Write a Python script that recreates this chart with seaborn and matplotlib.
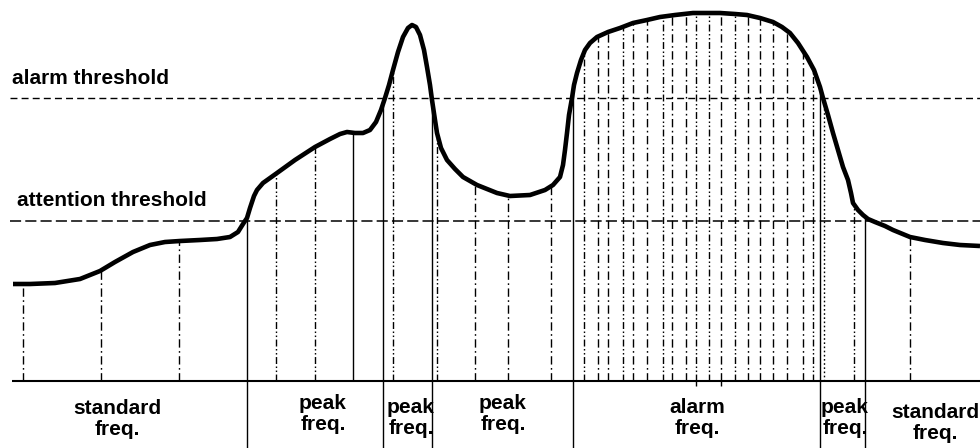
import numpy as np
import matplotlib
matplotlib.use("Agg")
import matplotlib.pyplot as plt
import seaborn as sns

# curve: frequency position vs amplitude (baseline = 0)
freq = [13, 30, 55, 80, 100, 115, 133, 150, 165, 180, 200, 217, 230, 238, 243,
        247, 250, 254, 257, 263, 277, 295, 315, 330, 340, 347, 355, 363, 370, 376,
        381, 385, 389, 393, 398, 403, 408, 412, 416, 420, 424, 427, 430, 432, 435,
        437, 441, 447, 455, 463, 477, 497, 510, 530, 545, 553, 560, 563, 565, 567,
        569, 572, 574, 577, 581, 585, 590, 597, 608, 620, 633, 647, 660, 675, 693,
        709, 720, 735, 747, 760, 773, 782, 790, 798, 807, 814, 820, 823, 828, 833,
        838, 843, 848, 851, 853, 858, 863, 868, 875, 885, 893, 910, 925, 943, 960,
        980]
amplitude = [97, 97, 98, 102, 110, 119, 129, 136, 139, 140, 141, 142, 144, 149, 157,
             163, 173, 185, 191, 198, 208, 221, 234, 242, 247, 249, 248, 248, 251, 259,
             271, 283, 296, 311, 329, 344, 353, 356, 354, 346, 331, 314, 296, 281, 261,
             248, 233, 221, 212, 204, 196, 188, 185, 186, 191, 196, 204, 216, 231, 248,
             266, 283, 296, 308, 321, 331, 338, 344, 349, 353, 358, 361, 364, 366, 368,
             368, 368, 367, 366, 363, 359, 354, 348, 338, 324, 311, 294, 283, 266, 248,
             231, 214, 201, 188, 178, 171, 166, 162, 159, 155, 151, 144, 141, 138, 136,
             135]

alarm_level = 283
attention_level = 160

# band boundaries (solid lines going below the axis)
boundaries = [247, 383, 432, 573, 820, 865]

# sampling lines inside the bands and their style
sample_x = [23, 101, 179, 276, 315, 353, 393, 437, 475, 508, 551,
            584, 598, 608, 623, 633, 647, 663, 672, 686, 696, 709, 721, 735,
            748, 760, 773, 787, 803, 813, 824, 854, 910]
sample_style = ["dd", "dd", "dd", "ddd", "ddd", "solid", "ddd", "ddd", "dd", "dd", "dd",
                "ddd", "dd", "dd", "ddd", "dd", "dd", "ddd", "dd", "dd", "ddd", "ddd", "dd", "ddd",
                "dd", "dd", "dd", "dd", "dd", "ddd", "dot", "ddd", "dd"]

band_labels = ["standard\nfreq.", "peak\nfreq.", "peak\nfreq.", "peak\nfreq.",
               "alarm\nfreq.", "peak\nfreq.", "standard\nfreq."]
label_x = [117, 323, 411, 503, 697, 845, 935]
label_y = [-38, -33, -37, -33, -37, -37, -42]

styles = {
    "dd": (0, (6, 2.5, 1.2, 2.5)),
    "ddd": (0, (5, 1.8, 1.1, 1.8, 1.1, 1.8)),
    "dot": (0, (1.2, 1.8)),
    "solid": "-",
}

sns.set_style("white")
plt.rcParams["font.family"] = ["Liberation Sans", "DejaVu Sans"]
plt.rcParams["lines.scale_dashes"] = False
plt.rcParams["text.color"] = "black"

fig = plt.figure(figsize=(9.8, 4.48), dpi=100)
ax = fig.add_axes([0, 0, 1, 1])
ax.set_xlim(0, 980)
ax.set_ylim(-67, 381)
ax.axis("off")

# thresholds
ax.hlines(alarm_level, 10, 980, color="black", lw=1.0, linestyles=[(0, (5, 3))])
ax.hlines(attention_level, 10, 980, color="black", lw=1.1, linestyles=[(0, (8, 3))])

# baseline
ax.hlines(0, 12, 980, color="black", lw=1.5)

# sampling lines up to the curve
tops = np.interp(sample_x, freq, amplitude)
for x, top, st in zip(sample_x, tops, sample_style):
    ax.vlines(x, 0, top, color="black", lw=1.0, linestyles=[styles[st]])

# boundaries from curve down past the axis
btops = np.interp(boundaries, freq, amplitude)
for x, top in zip(boundaries, btops):
    ax.vlines(x, -67, top, color="black", lw=1.0)

# short ticks below the axis in the alarm band
ax.vlines([696, 721], -5, 0, color="black", lw=1.0)

sns.lineplot(x=freq, y=amplitude, ax=ax, color="black", lw=3.3, sort=False,
             solid_joinstyle="round", solid_capstyle="butt")

ax.text(12, 303, "alarm threshold", fontsize=15, fontweight="bold", ha="left", va="center")
ax.text(17, 181, "attention threshold", fontsize=15, fontweight="bold", ha="left", va="center")

for lab, x, y in zip(band_labels, label_x, label_y):
    ax.text(x, y, lab, fontsize=15, fontweight="bold", ha="center", va="center",
            multialignment="center", linespacing=1.12)

fig.savefig("out.png", dpi=100)
